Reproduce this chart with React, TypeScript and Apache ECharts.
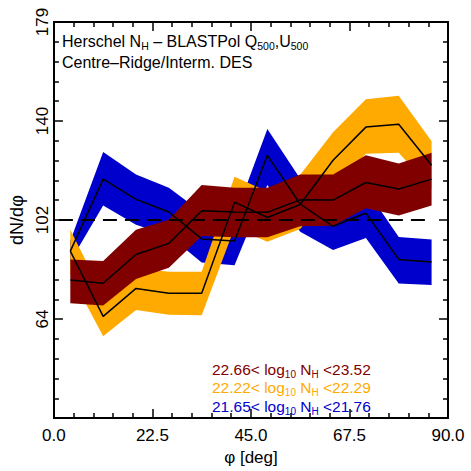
import React, { useEffect, useRef } from "react";
import * as echarts from "echarts";

// Bin centres of the position-angle histogram (deg)
const PHI = [3.75, 11.25, 18.75, 26.25, 33.75, 41.25, 48.75, 56.25, 63.75, 71.25, 78.75, 86.25];

// 22.66 < log10 NH < 23.52
const HIGH_RANGE = [22.66, 23.52];
const HIGH_MEAN = [78.8, 77.6, 88.7, 93.0, 105.6, 105.1, 105.0, 109.8, 109.7, 116.5, 114.0, 117.8];
const HIGH_LOW = [69.9, 69.0, 79.2, 83.6, 95.8, 95.4, 95.4, 99.6, 99.8, 106.6, 103.8, 107.6];
const HIGH_UP = [86.8, 86.2, 98.3, 102.1, 115.5, 114.5, 114.5, 119.6, 119.6, 127.0, 123.8, 128.0];

// 22.22 < log10 NH < 22.29
const MID_RANGE = [22.22, 22.29];
const MID_MEAN = [90.0, 64.8, 75.6, 73.7, 73.7, 108.9, 103.0, 108.0, 125.1, 137.9, 139.0, 123.2];
const MID_LOW = [81.0, 57.1, 67.3, 65.4, 65.2, 99.0, 93.6, 98.5, 114.0, 127.6, 128.0, 114.0];
const MID_UP = [98.3, 73.0, 83.5, 82.0, 82.0, 118.7, 113.0, 119.5, 135.9, 148.7, 150.0, 132.4];

// 21.65 < log10 NH < 21.76
const LOW_RANGE = [21.65, 21.76];
const LOW_MEAN = [90.0, 117.8, 110.0, 105.1, 94.7, 93.9, 127.0, 108.2, 99.6, 104.7, 86.8, 85.8];
const LOW_LOW = [86.0, 107.6, 100.2, 96.0, 85.6, 84.5, 115.5, 97.5, 90.4, 95.1, 77.5, 76.9];
const LOW_UP = [94.0, 128.3, 119.6, 114.5, 105.0, 103.0, 137.2, 118.0, 109.0, 114.0, 95.5, 94.5];

// Expected level for a flat distribution
const UNIFORM_LEVEL = 102;

// Axis extents and tick positions
const X_MIN = 0;
const X_MAX = 90;
const X_STEP = 22.5;
const Y_MIN = 25.5;
const Y_MAX = 178.5;
const Y_MAJOR = [25.5, 63.75, 102, 140.25, 178.5];
const Y_MINOR_PER_MAJOR = 5;

const FONT = "Liberation Sans, Arial, sans-serif";
const BLUE = "#0000CC";
const ORANGE = "#FFAA00";
const DARK_RED = "#800000";

const Y_MINOR: number[] = [];
for (let i = 0; i < Y_MAJOR.length - 1; i++) {
  const step = (Y_MAJOR[i + 1] - Y_MAJOR[i]) / Y_MINOR_PER_MAJOR;
  for (let j = 1; j < Y_MINOR_PER_MAJOR; j++) Y_MINOR.push(Y_MAJOR[i] + step * j);
}

type Group = { range: number[]; color: string; mean: number[]; low: number[]; up: number[] };

// drawn bottom to top
const GROUPS: Group[] = [
  { range: LOW_RANGE, color: BLUE, mean: LOW_MEAN, low: LOW_LOW, up: LOW_UP },
  { range: MID_RANGE, color: ORANGE, mean: MID_MEAN, low: MID_LOW, up: MID_UP },
  { range: HIGH_RANGE, color: DARK_RED, mean: HIGH_MEAN, low: HIGH_LOW, up: HIGH_UP },
];

function bandRenderer(color: string) {
  return (params: any, api: any) => {
    if (params.dataIndex !== 0) return null;
    const n = params.dataInsideLength;
    const upper: number[][] = [];
    const lower: number[][] = [];
    for (let i = 0; i < n; i++) {
      upper.push(api.coord([api.value(0, i), api.value(2, i)]));
      lower.push(api.coord([api.value(0, i), api.value(1, i)]));
    }
    return {
      type: "polygon",
      shape: { points: upper.concat(lower.reverse()) },
      style: { fill: color, stroke: null },
    };
  };
}

function buildSeries(): any[] {
  const out: any[] = [];
  GROUPS.forEach((g) => {
    out.push({
      type: "custom",
      name: `${g.range[0]}-${g.range[1]} band`,
      data: PHI.map((x, i) => [x, g.low[i], g.up[i]]),
      encode: { x: 0, y: [1, 2] },
      renderItem: bandRenderer(g.color),
      silent: true,
    });
    out.push({
      type: "line",
      name: `${g.range[0]}-${g.range[1]}`,
      data: PHI.map((x, i) => [x, g.mean[i]]),
      symbol: "none",
      lineStyle: { color: "#000", width: 1.5 },
      silent: true,
    });
  });
  out.push({
    type: "line",
    name: "uniform",
    data: [
      [X_MIN, UNIFORM_LEVEL],
      [PHI[PHI.length - 1], UNIFORM_LEVEL],
    ],
    symbol: "none",
    lineStyle: { color: "#000", width: 2, type: [14, 8], dashOffset: 17 },
    silent: true,
  });
  return out;
}

const axisLineStyle = { color: "#000", width: 2 };
const tickLineStyle = { color: "#000", width: 1.5 };

function xAxis(position: "bottom" | "top", withLabels: boolean): any {
  return {
    type: "value",
    position,
    min: X_MIN,
    max: X_MAX,
    interval: X_STEP,
    axisLine: { show: true, onZero: false, lineStyle: axisLineStyle },
    axisTick: { show: true, inside: true, length: 9, lineStyle: tickLineStyle },
    minorTick: { show: true, splitNumber: 5, length: 5, lineStyle: tickLineStyle },
    splitLine: { show: false },
    minorSplitLine: { show: false },
    axisLabel: {
      show: withLabels,
      color: "#000",
      fontSize: 17,
      fontFamily: FONT,
      margin: 9,
      formatter: (v: number) => v.toFixed(1),
    },
    ...(withLabels
      ? {
          name: "φ [deg]",
          nameLocation: "middle",
          nameGap: 27,
          nameTextStyle: { color: "#000", fontSize: 17, fontFamily: FONT },
        }
      : {}),
  };
}

function yAxis(position: "left" | "right", minor: boolean, withLabels: boolean): any {
  return {
    type: "value",
    position,
    min: Y_MIN,
    max: Y_MAX,
    axisLine: { show: !minor, onZero: false, lineStyle: axisLineStyle },
    axisTick: {
      show: true,
      inside: true,
      length: minor ? 5 : 9,
      customValues: minor ? Y_MINOR : Y_MAJOR,
      lineStyle: tickLineStyle,
    },
    splitLine: { show: false },
    axisLabel: {
      show: withLabels,
      customValues: Y_MAJOR.slice(1),
      rotate: 90,
      color: "#000",
      fontSize: 17,
      fontFamily: FONT,
      margin: 3,
      formatter: (v: number) => String(Math.round(v)),
    },
    ...(withLabels
      ? {
          name: "dN/dφ",
          nameLocation: "middle",
          nameGap: 27,
          nameTextStyle: { color: "#000", fontSize: 18, fontFamily: FONT },
        }
      : {}),
  };
}

function richLine(x: number, y: number, text: string, color: string, size: number, subSize: number): any {
  return {
    type: "text",
    x,
    y,
    silent: true,
    style: {
      text,
      fill: color,
      fontFamily: FONT,
      fontSize: size,
      verticalAlign: "top",
      rich: {
        m: { fontSize: size, fontFamily: FONT, fill: color, lineHeight: 20, verticalAlign: "middle" },
        s: { fontSize: subSize, fontFamily: FONT, fill: color, lineHeight: 8, verticalAlign: "bottom" },
      },
    },
  };
}

export default function App() {
  const ref = useRef<HTMLDivElement>(null);

  useEffect(() => {
    if (!ref.current) return;
    const chart = echarts.init(ref.current, null, { renderer: "svg" });

    const legend = [GROUPS[2], GROUPS[1], GROUPS[0]].map((g, i) =>
      richLine(
        212,
        359 + i * 18.5,
        `{m|${g.range[0].toFixed(2)}< log}{s|10}{m| N}{s|H}{m| <${g.range[1].toFixed(2)}}`,
        g.color,
        15.5,
        10
      )
    );

    chart.setOption({
      animation: false,
      backgroundColor: "#fff",
      grid: { left: 48, right: 23, top: 22, bottom: 48, containLabel: false },
      xAxis: [xAxis("bottom", true), xAxis("top", false)],
      yAxis: [
        yAxis("left", false, true),
        yAxis("left", true, false),
        yAxis("right", false, false),
        yAxis("right", true, false),
      ],
      series: buildSeries(),
      graphic: [
        richLine(62, 31, "{m|Herschel N}{s|H}{m| – BLASTPol Q}{s|500}{m|,U}{s|500}", "#000", 16, 10.5),
        richLine(62, 52, "{m|Centre–Ridge/Interm. DES}", "#000", 16, 10.5),
        ...legend,
      ],
    });

    return () => chart.dispose();
  }, []);

  return <div ref={ref} style={{ position: "absolute", left: 0, top: 0, width: 471, height: 471 }} />;
}
